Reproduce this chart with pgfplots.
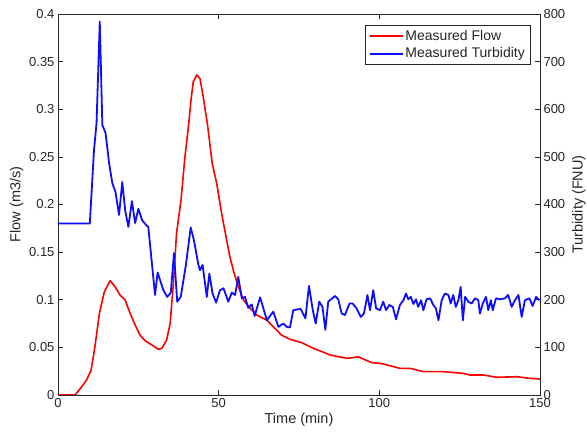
\documentclass[border=0pt]{standalone}
\usepackage{pgfplots}
\pgfplotsset{compat=1.18}
\usepackage{fontspec}
\setmainfont{Liberation Sans}
\definecolor{axgray}{gray}{0.15}
\definecolor{myblue}{rgb}{0.05,0.05,1}
\newcommand{\myfs}{\fontsize{13}{15}\selectfont}
\newcommand{\labfs}{\fontsize{14.5}{17}\selectfont}
\begin{document}
\begin{tikzpicture}
\pgfplotsset{
  every axis/.append style={
    scale only axis, width=482pt, height=381pt,
    xmin=0, xmax=150,
    axis line style={axgray, line width=0.6pt},
    tick style={axgray, line width=0.6pt},
    major tick length=5pt,
    tick align=inside,
    ticklabel style={font=\myfs, text=axgray},
    label style={font=\labfs, text=axgray},
    /pgf/number format/assume math mode=true,
    scaled ticks=false,
  }
}
\begin{axis}[
  name=ax,
  ymin=0, ymax=0.4,
  xtick={0,50,100,150},
  xtick pos=both,
  ytick={0,0.05,0.1,0.15,0.2,0.25,0.3,0.35,0.4},
  yticklabels={0,0.05,0.1,0.15,0.2,0.25,0.3,0.35,0.4},
  ytick pos=left,
  xlabel={Time (min)},
  ylabel={Flow (m3/s)},
  xlabel style={yshift=2pt},
  ylabel style={yshift=-1pt},
]
\addplot[red, line width=1.6pt, line join=round] coordinates {
(0,0)(5.3,0)(7.4,0.0087)(8.9,0.0158)(10.3,0.026)(11.5,0.051)(12.9,0.086)(14.4,0.108)(16.2,0.120)(17.7,0.114)(19.3,0.105)(20.9,0.0997)(22.4,0.086)(24.0,0.0735)(25.5,0.063)(27.1,0.057)(29.2,0.0525)(31.2,0.048)(32.3,0.049)(33.8,0.0577)(34.9,0.075)(35.9,0.117)(36.9,0.170)(38.3,0.205)(39.5,0.250)(40.6,0.282)(41.4,0.310)(42.1,0.329)(43.2,0.336)(44.2,0.332)(45.2,0.313)(46.6,0.282)(48.0,0.243)(49.4,0.222)(50.9,0.191)(52.3,0.166)(53.5,0.145)(54.8,0.128)(56.1,0.114)(57.7,0.0997)(59.8,0.091)(61.8,0.084)(65.0,0.0785)(67.0,0.0717)(69.5,0.063)(72.2,0.0585)(75.8,0.055)(79.5,0.049)(82.1,0.0455)(84.7,0.042)(89.9,0.0385)(93.5,0.040)(97.6,0.034)(100.7,0.033)(106.4,0.028)(109.5,0.028)(113.7,0.0245)(119.9,0.0245)(126.1,0.0227)(128.2,0.021)(132.4,0.021)(136.5,0.0186)(142.8,0.0192)(146.9,0.0175)(150,0.0168)
};
\end{axis}
\begin{axis}[
  ymin=0, ymax=800,
  axis y line*=right,
  axis x line=none,
  ytick={0,100,...,800},
  ylabel={Turbidity (FNU)},
  ylabel style={yshift=0pt},
  legend cell align=left,
  legend style={at={(1,1)}, anchor=north east, xshift=-10pt, yshift=-11pt,
    draw=axgray, font=\fontsize{14}{16}\selectfont, text=axgray,
    inner xsep=3pt, inner ysep=3pt, row sep=2pt},
  legend image code/.code={\draw[#1] (0pt,0pt) -- (33pt,0pt);},
]
\addlegendimage{red, line width=1.6pt}
\addlegendentry{Measured Flow}
\addplot[myblue, line width=1.8pt, line join=round] coordinates {
(0,360)(9.9,360)(11.2,514)(12.0,571)(13.0,784)(13.8,567)(14.8,550)(15.9,487)(16.9,445)(17.9,426)(19.0,378)(20.0,447)(20.9,388)(21.9,353)(23.0,407)(24.0,361)(25.0,391)(26.2,367)(27.4,357)(28.1,353)(30.2,210)(31.0,257)(32.8,220)(34.0,206)(35.1,215)(36.1,298)(37.1,196)(38.2,206)(39.8,273)(41.3,352)(42.3,325)(43.7,273)(44.2,262)(45.0,273)(46.3,206)(47.1,255)(48.1,213)(49.2,194)(50.4,220)(51.5,224)(53.0,196)(54.1,215)(55.1,210)(56.1,248)(57.2,203)(58.2,206)(59.2,183)(60.3,190)(61.2,166)(62.9,205)(65.0,157)(67.0,175)(68.6,143)(70.1,150)(71.2,143)(72.2,142)(73.2,178)(75.5,181)(77.0,161)(78.1,229)(79.3,178)(80.2,150)(81.3,196)(82.3,185)(83.2,137)(84.1,196)(86.2,208)(87.2,201)(88.3,171)(89.3,168)(90.7,192)(91.7,192)(92.9,182)(94.2,164)(95.2,171)(96.3,210)(97.1,178)(98.1,220)(99.0,182)(100.2,178)(101.2,196)(102.1,178)(103.1,189)(104.2,185)(105.2,159)(106.4,189)(107.5,199)(108.3,213)(109.0,201)(109.8,206)(110.6,191)(111.4,201)(112.1,185)(113.0,199)(113.7,178)(114.7,201)(115.8,203)(116.8,189)(117.6,182)(118.4,157)(119.4,199)(120.4,213)(121.5,210)(122.2,192)(123.0,210)(123.8,185)(124.6,199)(125.3,227)(126.0,157)(126.7,206)(127.7,196)(128.7,192)(129.8,203)(130.8,199)(131.3,171)(132.2,192)(133.2,206)(133.9,178)(134.7,199)(135.3,178)(136.3,203)(137.6,201)(139.1,203)(140.1,210)(141.2,185)(142.2,199)(143.3,210)(144.3,164)(145.3,199)(146.7,203)(147.7,187)(148.8,206)(149.8,199)
};
\addlegendentry{Measured Turbidity}
\end{axis}
\pgfresetboundingbox
\path ([shift={(-58pt,-44pt)}]ax.south west) rectangle ([shift={(47pt,14pt)}]ax.north east);
\end{tikzpicture}
\end{document}
